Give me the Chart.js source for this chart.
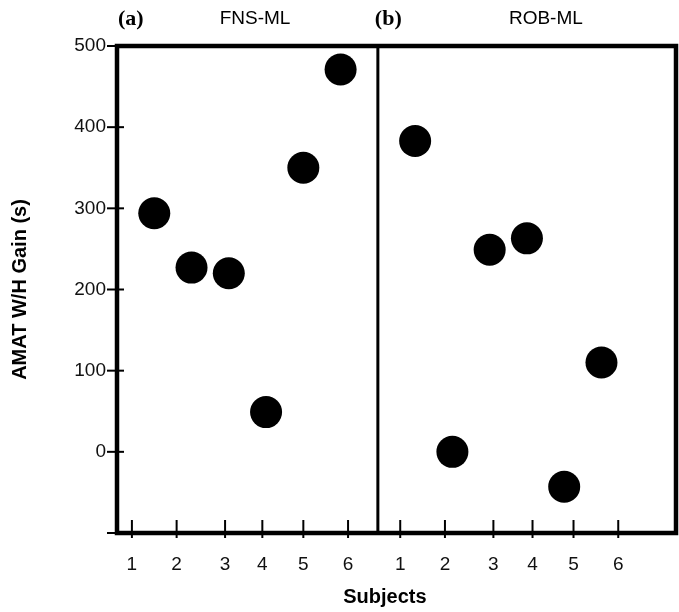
<!DOCTYPE html>
<html>
<head>
<meta charset="utf-8">
<script src="https://cdn.jsdelivr.net/npm/chart.js@4.4.1/dist/chart.umd.min.js"></script>
<style>
  html, body { margin: 0; padding: 0; background: #fff; }
  canvas { display: block; }
</style>
</head>
<body>
<canvas id="chart" width="679" height="612"></canvas>
<script>
// subjects, one panel each
const subjectLabels = ['1', '2', '3', '4', '5', '6'];
const fnsX = [1, 2, 3, 4, 5, 6];
const fnsGain = [294, 227, 220, 49, 350, 471];
const robX = [8, 9, 10, 11, 12, 13];
const robGain = [383, 0, 249, 263, -43, 110];

// tick marks under each panel (not evenly spaced in the original)
const fnsTicks = [0.4, 1.6, 2.9, 3.9, 5.0, 6.2];
const robTicks = [7.6, 8.8, 10.1, 11.15, 12.25, 13.45];
const dividerX = 7;
const panelTitles = [['(a)', 'FNS-ML'], ['(b)', 'ROB-ML']];
const xTitle = 'Subjects';

const toPoints = (xs, ys) => xs.map((x, i) => ({ x: x, y: ys[i] }));

const line = (ctx, x1, y1, x2, y2) => {
  ctx.beginPath();
  ctx.moveTo(x1, y1);
  ctx.lineTo(x2, y2);
  ctx.stroke();
};

// box, divider, crossing tick marks, panel titles and x title
const framePlugin = {
  id: 'frame',
  afterDraw(chart) {
    const { ctx, chartArea: a, scales: { x, y } } = chart;
    ctx.save();
    ctx.strokeStyle = '#000';
    ctx.lineWidth = 2;
    y.ticks.forEach((t) => {
      const py = y.getPixelForValue(t.value);
      line(ctx, a.left - 10, py, a.left + 7, py);
    });
    x.ticks.forEach((t) => {
      const px = x.getPixelForValue(t.value);
      line(ctx, px, a.bottom + 5, px, a.bottom - 13);
    });

    const divPx = x.getPixelForValue(dividerX);
    ctx.lineWidth = 3;
    line(ctx, divPx, a.top, divPx, a.bottom);

    ctx.lineWidth = 4.5;
    ctx.strokeRect(a.left, a.top, a.width, a.height);

    ctx.fillStyle = '#000';
    ctx.textBaseline = 'middle';
    const ty = a.top - 27;
    ctx.textAlign = 'left';
    ctx.font = 'bold 22px "Liberation Serif", "Times New Roman", serif';
    ctx.fillText(panelTitles[0][0], a.left + 1, ty);
    ctx.fillText(panelTitles[1][0], divPx - 3, ty);
    ctx.textAlign = 'center';
    ctx.font = '19px "Liberation Sans", Arial, sans-serif';
    ctx.fillText(panelTitles[0][1], a.left + 138, ty);
    ctx.fillText(panelTitles[1][1], divPx + 168, ty);

    ctx.font = 'bold 20px "Liberation Sans", Arial, sans-serif';
    ctx.fillText(xTitle, divPx + 7, x.bottom - 15);
    ctx.restore();
  }
};

new Chart(document.getElementById('chart'), {
  type: 'scatter',
  data: {
    datasets: [
      {
        label: 'FNS-ML',
        data: toPoints(fnsX, fnsGain),
        backgroundColor: '#000',
        borderWidth: 0,
        pointRadius: 16,
      },
      {
        label: 'ROB-ML',
        data: toPoints(robX, robGain),
        backgroundColor: '#000',
        borderWidth: 0,
        pointRadius: 16,
      },
    ],
  },
  options: {
    responsive: false,
    animation: false,
    devicePixelRatio: 1,
    layout: { autoPadding: false, padding: { top: 46, right: 3, left: 0, bottom: 0 } },
    plugins: {
      legend: { display: false },
      tooltip: { enabled: false },
    },
    scales: {
      x: {
        type: 'linear',
        min: 0,
        max: 15,
        afterFit: (s) => {
          s.height = 79;
          s.paddingLeft = 0;
          s.paddingRight = 0;
        },
        afterBuildTicks: (s) => {
          s.ticks = fnsTicks.concat(robTicks).map((v) => ({ value: v }));
        },
        grid: { display: false },
        border: { display: false },
        ticks: {
          autoSkip: false,
          maxRotation: 0,
          padding: 12,
          color: '#111',
          font: { family: '"Liberation Sans", Arial, sans-serif', size: 19 },
          callback: (v, i) => subjectLabels[i % subjectLabels.length],
        },
      },
      y: {
        min: -100,
        max: 500,
        afterFit: (s) => { s.width = 117; },
        grid: { display: false },
        border: { display: false },
        ticks: {
          stepSize: 100,
          padding: 3,
          color: '#111',
          font: { family: '"Liberation Sans", Arial, sans-serif', size: 19 },
          callback: (v) => (v < 0 ? '' : v),
        },
        title: {
          display: true,
          text: 'AMAT W/H Gain (s)',
          color: '#000',
          padding: { top: 8, bottom: 0 },
          font: { family: '"Liberation Sans", Arial, sans-serif', size: 20, weight: 'bold' },
        },
      },
    },
  },
  plugins: [framePlugin],
});
</script>
</body>
</html>
